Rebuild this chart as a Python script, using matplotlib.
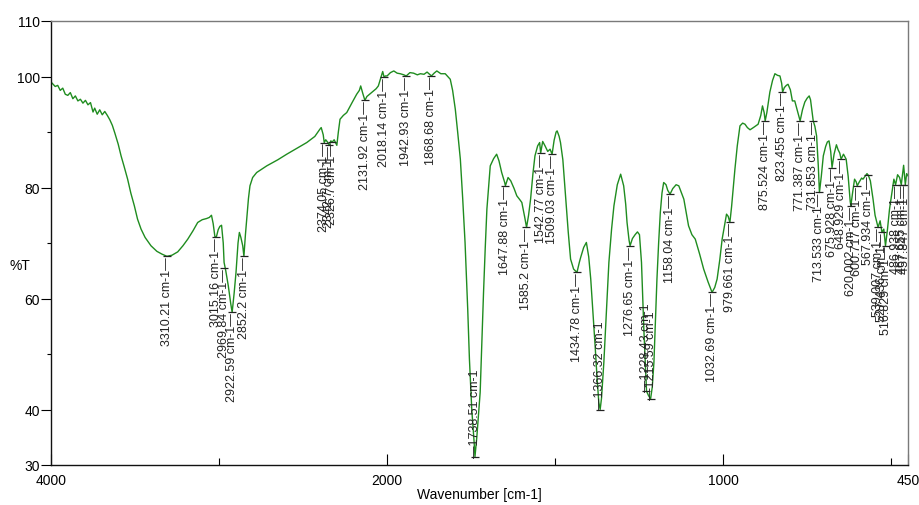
import matplotlib
matplotlib.use("Agg")
import matplotlib.pyplot as plt
import numpy as np

plt.rcParams['font.family'] = ['Liberation Sans', 'DejaVu Sans']

# spectrum: wavenumber [cm-1] and %T
wavenumber = [
    4000, 3975, 3960, 3945, 3930, 3915, 3900, 3885, 3870, 3855, 3840, 3825, 3810, 3795,
    3780, 3765, 3750, 3740, 3725, 3710, 3695, 3680, 3665, 3650, 3635, 3620, 3600, 3583,
    3565, 3544, 3525, 3504, 3485, 3464, 3440, 3405, 3370, 3340, 3310, 3280, 3246, 3215,
    3186, 3155, 3127, 3100, 3075, 3058, 3045, 3035, 3024, 3015, 3005, 2995, 2985, 2975,
    2970, 2960, 2945, 2930, 2922, 2910, 2899, 2887, 2879, 2870, 2859, 2852, 2843, 2835,
    2825, 2816, 2800, 2776, 2716, 2650, 2597, 2540, 2478, 2430, 2400, 2392, 2380, 2374,
    2365, 2355, 2343, 2335, 2326, 2315, 2305, 2299, 2290, 2280, 2260, 2240, 2210, 2181,
    2165, 2157, 2145, 2132, 2120, 2100, 2081, 2065, 2052, 2040, 2026, 2018, 2010, 2000,
    1990, 1980, 1970, 1961, 1950, 1943, 1932, 1921, 1910, 1901, 1890, 1881, 1868, 1860,
    1852, 1840, 1827, 1812, 1805, 1797, 1790, 1782, 1775, 1768, 1760, 1755, 1748, 1741,
    1738.5, 1733, 1727, 1723, 1718, 1713, 1708, 1703, 1693, 1683, 1674, 1667, 1659, 1650,
    1648, 1640, 1632, 1622, 1614, 1605, 1599, 1590, 1585, 1579, 1573, 1566, 1560, 1552,
    1546, 1543, 1537, 1530, 1522, 1515, 1509, 1503, 1497, 1494, 1488, 1484, 1477, 1469,
    1461, 1454, 1445, 1435, 1428, 1424, 1415, 1407, 1400, 1394, 1387, 1381, 1375, 1370,
    1366, 1362, 1355, 1348, 1340, 1332, 1325, 1315, 1305, 1296, 1290, 1286, 1280, 1277,
    1270, 1262, 1255, 1249, 1243, 1236, 1230, 1228, 1222, 1216, 1211, 1206, 1202, 1197,
    1192, 1187, 1182, 1177, 1170, 1165, 1158, 1150, 1140, 1132, 1125, 1117, 1110, 1103,
    1093, 1083, 1070, 1058, 1045, 1033, 1025, 1018, 1010, 1003, 995, 990, 985, 980,
    975, 965, 958, 950, 942, 935, 928, 920, 910, 896, 888, 883, 878, 875,
    870, 861, 853, 846, 838, 831, 826, 823, 818, 812, 807, 800, 794, 787,
    780, 771, 764, 757, 750, 744, 740, 735, 732, 727, 722, 717, 713.5, 708,
    702, 695, 690, 685, 680, 676, 670, 663, 658, 653, 649, 642, 634, 628,
    622, 620, 615, 609, 604, 601, 595, 588, 584, 578, 572, 568, 562, 558,
    554, 548, 542, 539, 533, 527.5, 522, 517, 511, 505, 498, 492, 487, 481,
    475, 470, 466, 463, 460, 458, 454, 450,
]
transmittance = [
    99.0, 98.2, 98.4, 97.5, 97.9, 96.8, 96.6, 97.1, 96.0, 96.5, 95.6, 95.9, 95.2, 95.7,
    94.9, 95.3, 93.6, 94.3, 93.2, 94.0, 93.1, 93.7, 93.0, 92.2, 91.2, 89.8, 87.8, 85.7,
    83.8, 81.5, 79.0, 76.7, 74.3, 72.5, 71.0, 69.5, 68.5, 68.0, 67.6, 67.8, 68.4, 69.5,
    70.7, 72.2, 73.7, 74.2, 74.4, 74.6, 75.0, 73.5, 71.0, 71.2, 72.4, 73.0, 73.2, 70.0,
    66.5, 65.0, 62.3, 59.0, 57.5, 61.0, 64.7, 70.0, 71.9, 71.0, 69.5, 67.6, 71.5, 74.3,
    78.0, 80.3, 81.8, 82.7, 83.9, 85.0, 86.0, 87.0, 88.1, 89.2, 90.5, 90.8, 89.5, 88.1,
    88.6, 88.2, 87.6, 88.4, 88.2, 88.6, 88.0, 87.6, 90.0, 92.3, 93.0, 93.5, 95.2, 96.8,
    97.5, 98.3, 97.0, 95.7, 96.4, 96.9, 97.4, 97.8, 98.3, 99.5, 100.9, 99.9, 100.1, 100.1,
    100.7, 101.0, 100.6, 100.5, 100.3, 100.1, 100.7, 100.6, 100.3, 100.5, 100.4, 100.8, 100.1, 100.6,
    101.0, 100.5, 100.5, 99.5, 97.5, 94.1, 90.0, 85.1, 78.0, 70.1, 58.0, 49.1, 40.0, 34.1,
    31.5, 35.0, 40.0, 43.1, 52.0, 61.1, 69.0, 76.1, 83.9, 85.2, 86.0, 84.8, 82.7, 80.9,
    80.3, 81.8, 81.2, 79.8, 78.5, 77.8, 77.3, 74.5, 72.8, 75.0, 77.9, 82.5, 85.7, 87.5,
    88.1, 86.2, 88.3, 87.5, 86.5, 86.9, 86.0, 88.5, 90.0, 90.2, 89.2, 88.1, 85.0, 78.5,
    72.0, 67.1, 65.3, 64.7, 66.5, 67.4, 69.2, 70.1, 67.5, 63.5, 57.0, 51.5, 45.5, 41.3,
    40.0, 42.0, 48.5, 57.0, 66.5, 72.5, 76.7, 80.5, 82.4, 80.3, 77.0, 73.7, 70.5, 69.5,
    70.8, 71.5, 72.0, 71.5, 66.5, 54.5, 46.0, 43.3, 42.5, 41.9, 44.0, 48.5, 55.0, 63.5,
    70.0, 75.5, 79.0, 80.9, 80.5, 79.5, 78.8, 79.8, 80.5, 80.3, 79.2, 77.9, 75.5, 73.1,
    71.5, 70.7, 68.0, 65.3, 63.0, 61.1, 62.0, 63.5, 67.0, 70.7, 73.5, 75.2, 74.8, 73.7,
    76.5, 83.3, 87.5, 91.1, 91.6, 91.4, 90.8, 90.4, 90.8, 91.4, 93.0, 94.7, 93.5, 92.0,
    93.5, 97.2, 99.3, 100.5, 100.2, 100.1, 98.8, 97.2, 98.0, 98.4, 98.6, 97.6, 95.6, 95.6,
    94.0, 92.0, 94.0, 95.4, 96.1, 96.5, 95.8, 93.5, 92.0, 91.0, 89.3, 84.0, 79.1, 82.0,
    85.7, 87.4, 88.2, 88.4, 86.5, 83.6, 86.0, 87.7, 86.8, 86.2, 85.1, 86.0, 85.1, 82.0,
    77.5, 76.7, 79.0, 81.5, 81.0, 80.3, 81.0, 81.7, 81.5, 82.0, 82.5, 82.2, 81.2, 79.5,
    77.9, 75.0, 73.5, 72.8, 74.0, 71.9, 72.5, 69.5, 72.5, 76.1, 79.0, 81.5, 80.5, 82.3,
    81.8, 80.5, 82.5, 84.0, 82.0, 80.5, 82.5, 82.1,
]

# picked peaks
peak_labels = [
    "3310.21", "3015.16", "2969.84", "2922.59", "2852.2", "2374.05", "2342.7", "2326.7",
    "2131.92", "2018.14", "1942.93", "1868.68", "1738.51", "1647.88", "1585.2", "1542.77",
    "1509.03", "1434.78", "1366.32", "1276.65", "1228.43", "1215.59", "1158.04", "1032.69",
    "979.661", "875.524", "823.455", "771.387", "731.853", "713.533", "675.928", "648.929",
    "620.002", "600.717", "567.934", "539.007", "527.436", "516.829", "486.938", "467.655",
    "457.847",
]
peak_t = [
    67.6, 71.0, 65.5, 57.5, 67.6, 88.1, 87.6, 88.2,
    95.7, 99.9, 100.1, 100.1, 31.5, 80.3, 72.8, 86.2,
    86.0, 64.7, 40.0, 69.5, 43.3, 41.9, 78.8, 61.1,
    73.7, 92.0, 97.2, 92.0, 92.0, 79.1, 83.6, 85.1,
    76.7, 80.3, 82.2, 72.8, 71.9, 69.5, 80.5, 80.5,
    80.5,
]


# 4000-2000 is drawn at half the scale of 2000-450
def fwd(x):
    x = np.asarray(x, dtype=float)
    return np.where(x > 2000, 2000 + (x - 2000) / 2.0, x)


def inv(y):
    y = np.asarray(y, dtype=float)
    return np.where(y > 2000, 2000 + (y - 2000) * 2.0, y)


def plot_spectrum():
    fig = plt.figure(figsize=(9.19, 5.06), dpi=100)
    ax = fig.add_axes([51 / 919, 1 - 466 / 506, (908 - 51) / 919, (466 - 22) / 506])
    ax.set_xscale('function', functions=(fwd, inv))

    ax.plot(wavenumber, transmittance, color='#1f8c1f', lw=1.0)

    for lab, t in zip(peak_labels, peak_t):
        wn = float(lab)
        ax.plot([wn], [t], marker='_', ms=6, mew=0.9, color='#222222')
        if t < 45:
            ax.text(wn, t, "\u2014" + lab + " cm-1", rotation=90, ha='center', va='bottom',
                    fontsize=9, color='#222222')
        else:
            ax.text(wn, t, lab + " cm-1\u2014", rotation=90, ha='center', va='top',
                    fontsize=9, color='#222222')

    ax.set_xlim(4000, 450)
    ax.set_ylim(30, 110)

    ax.set_xticks([4000, 2000, 1000, 450])
    ax.set_xticklabels(["4000", "2000", "1000", "450"])
    ax.set_xticks([3000, 1500, 500], minor=True)
    ax.set_yticks([30, 40, 60, 80, 100, 110])
    ax.set_yticks([50, 70, 90], minor=True)

    ax.tick_params(axis='x', which='major', direction='in', length=8, width=0.8,
                   labelsize=10, pad=6)
    ax.tick_params(axis='x', which='minor', direction='in', length=5, width=0.8)
    ax.tick_params(axis='y', which='major', direction='out', length=7, width=0.8,
                   labelsize=10, pad=1)
    ax.tick_params(axis='y', which='minor', direction='out', length=3, width=0.8)

    for side in ['top', 'right']:
        ax.spines[side].set_color('#7a7a7a')
    for side in ['left', 'bottom']:
        ax.spines[side].set_color('#111111')
    for s in ax.spines.values():
        s.set_linewidth(1.0)

    ax.set_xlabel("Wavenumber [cm-1]", fontsize=10, va='center')
    ax.xaxis.set_label_coords(0.5, -0.065)
    ax.set_ylabel("%T", fontsize=10, rotation=0, ha='center', va='center')
    ax.yaxis.set_label_coords(-0.036, 0.45)

    fig.savefig("out.png", dpi=100)


if __name__ == "__main__":
    plot_spectrum()
